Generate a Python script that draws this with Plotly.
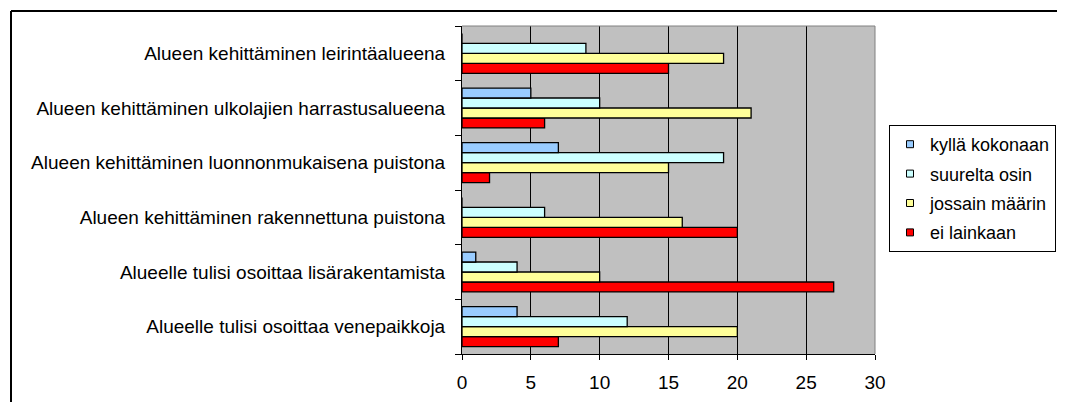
import plotly.graph_objects as go

categories = [
    "Alueelle tulisi osoittaa venepaikkoja",
    "Alueelle tulisi osoittaa lisärakentamista",
    "Alueen kehittäminen rakennettuna puistona",
    "Alueen kehittäminen luonnonmukaisena puistona",
    "Alueen kehittäminen ulkolajien harrastusalueena",
    "Alueen kehittäminen leirintäalueena",
]
series_names = ["kyllä kokonaan", "suurelta osin", "jossain määrin", "ei lainkaan"]
kylla_kokonaan = [4, 1, 0, 7, 5, 0]
suurelta_osin = [12, 4, 6, 19, 10, 9]
jossain_maarin = [20, 10, 16, 15, 21, 19]
ei_lainkaan = [7, 27, 20, 2, 6, 15]
x_ticks = [0, 5, 10, 15, 20, 25, 30]

series_values = [kylla_kokonaan, suurelta_osin, jossain_maarin, ei_lainkaan]
colors = ["#99CCFF", "#CCFFFF", "#FFFF99", "#FF0000"]

# page body has an 8px default margin on every side; keep the figure inside
# the window (no scrollbars) and work in window pixels with an offset
OFF = 8
WIN_W, WIN_H = 1065, 410
W, H = WIN_W - 2 * OFF, WIN_H - 2 * OFF
L, R, T, B = 462 - OFF, 875 - OFF, 26 - OFF, 354 - OFF


def px_x(p):
    return (p - OFF - L) / (R - L)


def px_y(p):
    return (B - (p - OFF)) / (B - T)


FONT = "Liberation Sans, Arial, sans-serif"

fig = go.Figure()

# bars: add bottom-most first (ei lainkaan) so kyllä sits on top of each group
for name, vals, col in reversed(list(zip(series_names, series_values, colors))):
    fig.add_trace(go.Bar(
        y=categories, x=vals, name=name, orientation="h",
        marker=dict(color=col, line=dict(color="black", width=1.3)),
        showlegend=False, hoverinfo="x+name",
    ))

# legend entries (small squares)
for i, (name, col) in enumerate(zip(series_names, colors)):
    fig.add_trace(go.Scatter(
        x=[None], y=[None], mode="markers", name=name,
        marker=dict(symbol="square", size=7, color=col,
                    line=dict(color="black", width=1)),
        legendgroup=f"g{i}", showlegend=True,
    ))

shapes = [
    # outer chart frame (top and left edges visible)
    dict(type="line", xref="paper", yref="paper",
         x0=px_x(11), x1=px_x(WIN_W + 5), y0=px_y(11), y1=px_y(11),
         line=dict(color="black", width=2)),
    dict(type="line", xref="paper", yref="paper",
         x0=px_x(11), x1=px_x(11), y0=px_y(11), y1=px_y(WIN_H + 5),
         line=dict(color="black", width=2)),
    # plot area border top and right (gray)
    dict(type="line", xref="paper", yref="paper", x0=0, x1=1, y0=1, y1=1,
         line=dict(color="#808080", width=1), layer="above"),
    dict(type="line", xref="paper", yref="paper", x0=1, x1=1, y0=0, y1=1,
         line=dict(color="#808080", width=1), layer="above"),
]

fig.update_layout(
    width=W, height=H,
    margin=dict(l=L, r=W - R, t=T, b=H - B, pad=0, autoexpand=False),
    paper_bgcolor="white", plot_bgcolor="#C0C0C0",
    barmode="group", bargap=0.27, bargroupgap=0,
    font=dict(family=FONT, size=19, color="black"),
    shapes=shapes,
    legend=dict(
        xref="container", yref="container",
        x=(889 - OFF) / W, y=1 - (125 - OFF) / H, xanchor="left", yanchor="top",
        bordercolor="black", borderwidth=1, bgcolor="white",
        font=dict(family=FONT, size=18, color="black"),
        traceorder="grouped", tracegroupgap=3,
    ),
    xaxis=dict(
        range=[0, 30], tickvals=x_ticks, ticks="outside", ticklen=5,
        tickcolor="black", showline=True, linecolor="black", linewidth=1,
        showgrid=True, gridcolor="black", gridwidth=1, zeroline=False,
        ticklabelstandoff=6, fixedrange=True, automargin=False,
    ),
    yaxis=dict(
        type="category", categoryorder="array", categoryarray=categories,
        tickson="boundaries", ticks="outside", ticklen=6, tickcolor="black",
        showline=True, linecolor="black", linewidth=1, showgrid=False,
        zeroline=False, ticklabelstandoff=12, fixedrange=True, automargin=False,
    ),
)

fig.write_html("out.html")
